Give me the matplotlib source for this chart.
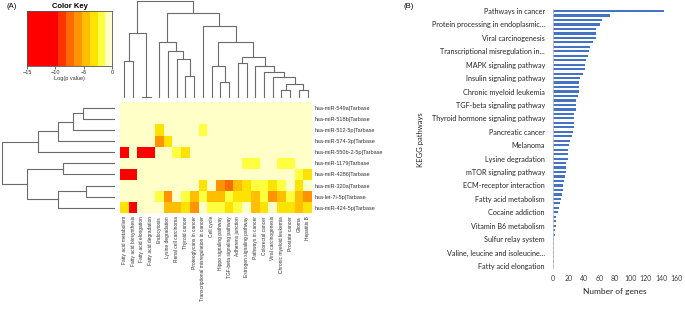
import numpy as np
import matplotlib
matplotlib.use("Agg")
import matplotlib.pyplot as plt
from matplotlib.colors import ListedColormap, BoundaryNorm

W, H = 685, 316

# ---- panel A data ----
mirnas = ["hsa-miR-549a|Tarbase", "hsa-miR-518b|Tarbase", "hsa-miR-512-5p|Tarbase",
          "hsa-miR-574-3p|Tarbase", "hsa-miR-550b-2-5p|Tarbase", "hsa-miR-1179|Tarbase",
          "hsa-miR-4286|Tarbase", "hsa-miR-320a|Tarbase", "hsa-let-7i-5p|Tarbase",
          "hsa-miR-424-5p|Tarbase"]
pathways_a = ["Fatty acid metabolism", "Fatty acid biosynthesis", "Fatty acid elongation",
              "Fatty acid degradation", "Endocytosis", "Lysine degradation",
              "Renal cell carcinoma", "Thyroid cancer", "Proteoglycans in cancer",
              "Transcriptional misregulation in cancer", "Cell cycle",
              "Hippo signaling pathway", "TGF-beta signaling pathway", "Adherens junction",
              "Estrogen signaling pathway", "Pathways in cancer", "Colorectal cancer",
              "Viral carcinogenesis", "Chronic myeloid leukemia", "Prostate cancer",
              "Glioma", "Hepatitis B"]
logp = [
    [-.5, -.5, -.5, -.5, -.5, -.5, -.5, -.5, -.5, -.5, -.5, -.5, -.5, -.5, -.5, -.5, -.5, -.5, -.5, -.5, -.5, -.5],
    [-.5, -.5, -.5, -.5, -.5, -.5, -.5, -.5, -.5, -.5, -.5, -.5, -.5, -.5, -.5, -.5, -.5, -.5, -.5, -.5, -.5, -.5],
    [-.5, -.5, -.5, -.5, -3.2, -.5, -.5, -.5, -.5, -1.8, -.5, -.5, -.5, -.5, -.5, -.5, -.5, -.5, -.5, -.5, -.5, -.5],
    [-.5, -.5, -.5, -.5, -6.0, -3.2, -.5, -.5, -.5, -.5, -.5, -.5, -.5, -.5, -.5, -.5, -.5, -.5, -.5, -.5, -.5, -.5],
    [-12, -.5, -12, -12, -.5, -.5, -1.8, -3.2, -.5, -.5, -.5, -.5, -.5, -.5, -.5, -.5, -.5, -.5, -.5, -.5, -.5, -.5],
    [-.5, -.5, -.5, -.5, -.5, -.5, -.5, -.5, -.5, -.5, -.5, -.5, -.5, -.5, -1.8, -1.8, -.5, -.5, -1.8, -1.8, -.5, -.5],
    [-12, -12, -.5, -.5, -.5, -.5, -.5, -.5, -.5, -.5, -.5, -.5, -.5, -.5, -.5, -.5, -.5, -.5, -.5, -.5, -1.8, -3.2],
    [-.5, -.5, -.5, -.5, -.5, -.5, -.5, -.5, -.5, -3.2, -.5, -6.0, -7.4, -4.6, -3.2, -1.8, -1.8, -3.2, -1.8, -.5, -3.2, -.5],
    [-.5, -.5, -.5, -.5, -1.8, -6.0, -.5, -1.8, -4.6, -1.8, -4.6, -4.6, -1.8, -3.2, -3.2, -4.6, -1.8, -6.0, -4.6, -1.8, -4.6, -6.0],
    [-3.2, -12, -.5, -.5, -.5, -4.6, -5.0, -3.2, -6.0, -.5, -1.8, -1.8, -3.2, -1.8, -.5, -4.6, -3.2, -.5, -3.2, -3.2, -4.6, -3.2],
]
key_bounds = [-15, -9.5, -8.1, -6.7, -5.3, -3.9, -2.5, -1.2, 0]
key_colors = ["#FF0000", "#FF3300", "#FF6A00", "#FF9400", "#FFBE00", "#FFE300", "#FFFF40", "#FFFFC8"]

# dendrogram merges: (child a, child b, height); leaves first, new nodes numbered after
col_merges = [(0, 1, 111), (2, 3, 1), (22, 23, 195), (7, 8, 66), (6, 25, 118), (5, 26, 141),
              (4, 27, 168), (11, 12, 47), (10, 29, 96), (13, 14, 106), (18, 19, 23),
              (20, 21, 23), (32, 33, 41), (17, 34, 63), (16, 35, 78), (15, 36, 96),
              (31, 37, 123), (30, 38, 168), (9, 39, 215), (28, 40, 256), (24, 41, 293)]
row_merges = [(0, 1, 95), (10, 2, 125), (11, 3, 170), (12, 4, 230), (5, 6, 155),
              (7, 8, 87), (15, 9, 170), (14, 16, 263), (13, 17, 340)]

# ---- panel B data ----
kegg_labels = ["Pathways in cancer", "Protein processing in endoplasmic...", "Viral carcinogenesis",
               "Transcriptional misregulation in...", "MAPK signaling pathway",
               "Insulin signaling pathway", "Chronic myeloid leukemia",
               "TGF-beta signaling pathway", "Thyroid hormone signaling pathway",
               "Pancreatic cancer", "Melanoma", "Lysine degradation", "mTOR signaling pathway",
               "ECM-receptor interaction", "Fatty acid metabolism", "Cocaine addiction",
               "Vitamin B6 metabolism", "Sulfur relay system", "Valine, leucine and isoleucine...",
               "Fatty acid elongation"]
gene_counts = [143, 73, 63, 60, 55, 55, 55, 51, 48, 46,
               45, 42, 41, 41, 38, 34, 33, 33, 33, 32,
               29, 29, 29, 27, 27, 27, 27, 25, 24, 22,
               21, 19, 19, 19, 17, 16, 16, 15, 14, 13,
               12, 11, 10, 9, 8, 6, 4, 4, 3, 2,
               2, 1, 1, 1, 1, 1, 1, 1]


def rect(x0, y0, x1, y1):
    return [x0 / W, 1 - y1 / H, (x1 - x0) / W, (y1 - y0) / H]


def draw_dendro(ax, merges, n, vertical):
    pos = {i: float(i) for i in range(n)}
    hgt = {i: 0.0 for i in range(n)}
    for k, (a, b, h) in enumerate(merges):
        node = n + k
        pos[node] = (pos[a] + pos[b]) / 2
        hgt[node] = h
        xs = [pos[a], pos[a], pos[b], pos[b]]
        ys = [hgt[a], h, h, hgt[b]]
        if vertical:
            ax.plot(xs, ys, color="#6b6b6b", lw=0.8)
        else:
            ax.plot(ys, xs, color="#6b6b6b", lw=0.8)
    ax.axis("off")


fig = plt.figure(figsize=(W / 100, H / 100), dpi=100)
plt.rcParams["font.family"] = ["Liberation Sans", "DejaVu Sans"]

cmap = ListedColormap(key_colors)
norm = BoundaryNorm(key_bounds, cmap.N)

# heatmap
hx0, hy0, hx1, hy1 = 120, 102.3, 312, 213.3
ax_h = fig.add_axes(rect(hx0, hy0, hx1, hy1))
ax_h.pcolormesh(np.array(logp), cmap=cmap, norm=norm)
ax_h.set_xlim(0, len(pathways_a))
ax_h.set_ylim(len(mirnas), 0)
ax_h.set_xticks(np.arange(len(pathways_a)) + 0.5)
ax_h.set_xticklabels(pathways_a, rotation=90, fontsize=3.5, color="#333333")
ax_h.yaxis.tick_right()
ax_h.set_yticks(np.arange(len(mirnas)) + 0.5)
ax_h.set_yticklabels(mirnas, fontsize=4, color="#333333")
ax_h.tick_params(axis="both", length=0, pad=2)
for s in ax_h.spines.values():
    s.set_visible(False)

# column dendrogram
ax_cd = fig.add_axes(rect(hx0, 0, hx1, 97.7))
draw_dendro(ax_cd, col_merges, len(pathways_a), True)
ax_cd.set_xlim(-0.5, len(pathways_a) - 0.5)
ax_cd.set_ylim(0, 295)

# row dendrogram
ax_rd = fig.add_axes(rect(0, hy0, 115, hy1))
draw_dendro(ax_rd, row_merges, len(mirnas), False)
ax_rd.set_ylim(len(mirnas) - 0.5, -0.5)
ax_rd.set_xlim(345, 0)

# colour key
ax_k = fig.add_axes(rect(27, 11, 112, 66))
grad = np.linspace(-15, 0, 301)
ax_k.pcolormesh(grad, [0, 1], grad[:-1].reshape(1, -1) + 0.025, cmap=cmap, norm=norm)
ax_k.set_xlim(-15, 0)
ax_k.set_yticks([])
ax_k.set_xticks([-15, -10, -5, 0])
ax_k.tick_params(axis="x", length=2, width=0.5, labelsize=4, pad=1, colors="#333333")
for s in ax_k.spines.values():
    s.set_linewidth(0.6)
    s.set_color("#555555")
ax_k.set_xlabel("Log(p value)", fontsize=4, labelpad=0.5, color="#333333")
ax_k.set_title("Color Key", fontsize=5.5, fontweight="bold", pad=2)

fig.text(12 / W, 1 - 6 / H, "(A)", fontsize=5.5, ha="center", va="center")
fig.text(409 / W, 1 - 7 / H, "(B)", fontsize=5.5, ha="center", va="center")

# ---- panel B ----
ax_b = fig.add_axes(rect(553.3, 8.8, 676.7, 268.2))
yy = np.arange(len(gene_counts))
ax_b.barh(yy, gene_counts, height=0.5, color="#4472C4")
ax_b.set_xlim(0, 160)
ax_b.set_ylim(len(gene_counts) - 0.5, -0.5)
ax_b.set_yticks(yy[::3])
ax_b.set_yticklabels(kegg_labels, fontsize=5.2, family=["Lato", "DejaVu Sans"], color="#262626")
ax_b.set_xticks(np.arange(0, 161, 20))
ax_b.tick_params(axis="x", labelsize=5, length=0, pad=5, colors="#404040")
ax_b.tick_params(axis="y", length=0, pad=6)
for lbl in ax_b.get_xticklabels():
    lbl.set_family(["Lato", "DejaVu Sans"])
for k in ["top", "right", "bottom"]:
    ax_b.spines[k].set_visible(False)
ax_b.spines["left"].set_color("#bfbfbf")
ax_b.spines["left"].set_linewidth(0.6)
ax_b.set_xlabel("Number of genes", fontsize=6, family=["Lato", "DejaVu Sans"], color="#262626", labelpad=4)
fig.text(421 / W, 1 - 140 / H, "KEGG pathways", rotation=90, fontsize=5.5,
         family=["Lato", "DejaVu Sans"], ha="center", va="center", color="#262626")

fig.savefig("out.png", dpi=100)
